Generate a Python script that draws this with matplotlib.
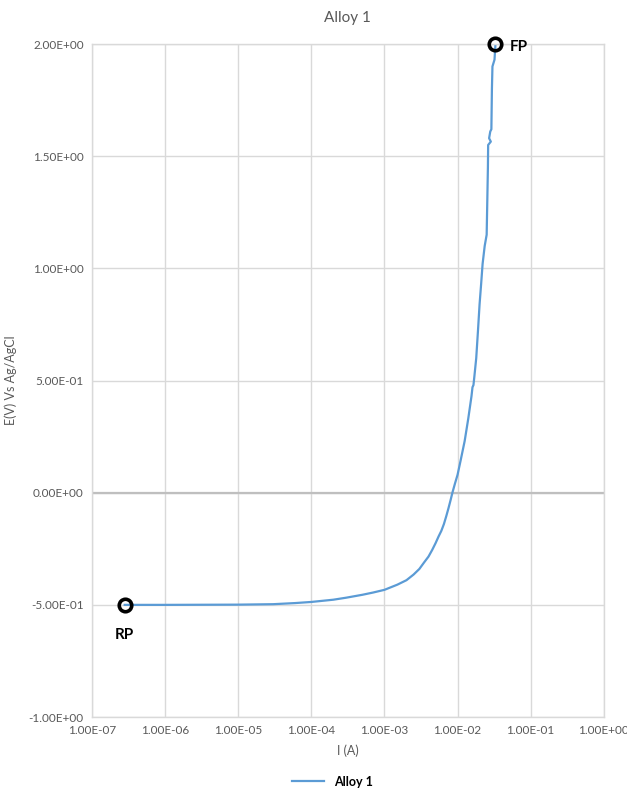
import numpy as np
import matplotlib
matplotlib.use("Agg")
import matplotlib.pyplot as plt
from matplotlib.ticker import FixedLocator, NullLocator

# ──────────────────────────────────────────────
#  Data
# ──────────────────────────────────────────────
current_a = [2.8e-7, 1e-6, 1e-5, 3e-5, 6e-5, 1e-4, 2e-4, 3e-4, 5e-4, 7e-4,
             1e-3, 1.5e-3, 2e-3, 2.5e-3, 3e-3, 3.5e-3, 4e-3, 4.5e-3, 5e-3,
             5.5e-3, 6e-3, 6.5e-3, 7e-3, 7.5e-3, 8e-3, 8.5e-3, 9.2e-3, 1.0e-2,
             1.1e-2, 1.25e-2, 1.4e-2, 1.55e-2, 1.6e-2, 1.65e-2, 1.7e-2, 1.8e-2,
             1.9e-2, 2.0e-2, 2.1e-2, 2.2e-2, 2.35e-2, 2.5e-2, 2.55e-2, 2.6e-2,
             2.62e-2, 2.85e-2, 2.7e-2, 2.8e-2, 2.9e-2, 2.95e-2, 3.0e-2, 3.2e-2,
             3.3e-2]
potential_v = [-0.500, -0.500, -0.499, -0.497, -0.492, -0.487, -0.477, -0.468,
               -0.455, -0.445, -0.433, -0.41, -0.39, -0.365, -0.34, -0.31,
               -0.285, -0.255, -0.225, -0.195, -0.17, -0.14, -0.105, -0.07,
               -0.035, 0.00, 0.04, 0.08, 0.143, 0.23, 0.33, 0.43, 0.47, 0.48,
               0.52, 0.60, 0.72, 0.84, 0.93, 1.02, 1.10, 1.15, 1.30, 1.45,
               1.55, 1.565, 1.58, 1.61, 1.62, 1.80, 1.90, 1.93, 2.00]

x_ticks = [1e-7, 1e-6, 1e-5, 1e-4, 1e-3, 1e-2, 1e-1, 1e0]
x_labels = ["1.00E-07", "1.00E-06", "1.00E-05", "1.00E-04",
            "1.00E-03", "1.00E-02", "1.00E-01", "1.00E+00"]
y_ticks = [-1.0, -0.5, 0.0, 0.5, 1.0, 1.5, 2.0]
y_labels = ["-1.00E+00", "-5.00E-01", "0.00E+00", "5.00E-01",
            "1.00E+00", "1.50E+00", "2.00E+00"]

LINE = "#5b9bd5"
GRID = "#d9d9d9"
TXT = "#595959"

plt.rcParams["font.family"] = ["Lato", "DejaVu Sans"]

fig = plt.figure(figsize=(6.27, 7.96), dpi=100)
ax = fig.add_axes([0.1467, 0.0992, 0.8163, 0.8455])

ax.plot(current_a, potential_v, color=LINE, linewidth=1.6, label="Alloy 1")

# start (RP) and end (FP) markers
ax.plot([current_a[0], current_a[-1]], [potential_v[0], potential_v[-1]],
        linestyle="none", marker="o", markersize=9, markerfacecolor="none",
        markeredgecolor="black", markeredgewidth=2.6, clip_on=False, zorder=5)
ax.annotate("RP", (current_a[0], potential_v[0]), xytext=(0, -22),
            textcoords="offset points", ha="center", va="center",
            fontsize=11, fontweight="bold", color="black")
ax.annotate("FP", (current_a[-1], potential_v[-1]), xytext=(17, -2),
            textcoords="offset points", ha="center", va="center",
            fontsize=11, fontweight="bold", color="black")

ax.set_xscale("log")
ax.set_xlim(1e-7, 1e0)
ax.set_ylim(-1.0, 2.0)
ax.xaxis.set_major_locator(FixedLocator(x_ticks))
ax.xaxis.set_minor_locator(NullLocator())
ax.set_xticklabels(x_labels)
ax.set_yticks(y_ticks)
ax.set_yticklabels(y_labels)
ax.tick_params(length=0, labelsize=8.5, labelcolor=TXT, pad=6)

ax.grid(True, color=GRID, linewidth=1)
ax.set_axisbelow(True)
for s in ax.spines.values():
    s.set_color(GRID)
    s.set_linewidth(1)
ax.axhline(0, color="#bfbfbf", linewidth=1.6, zorder=1)

ax.set_title("Alloy 1", fontsize=11, color=TXT, pad=16)
ax.set_xlabel("I (A)", fontsize=9, color=TXT, labelpad=6)
ax.set_ylabel("E(V) Vs Ag/AgCl", fontsize=9, color=TXT, labelpad=8)

fig.legend(loc="center", bbox_to_anchor=(0.53, 0.018), frameon=False,
           handlelength=2.6, prop={"weight": "bold", "size": 9})

plt.savefig("out.png", dpi=100)
plt.close()
